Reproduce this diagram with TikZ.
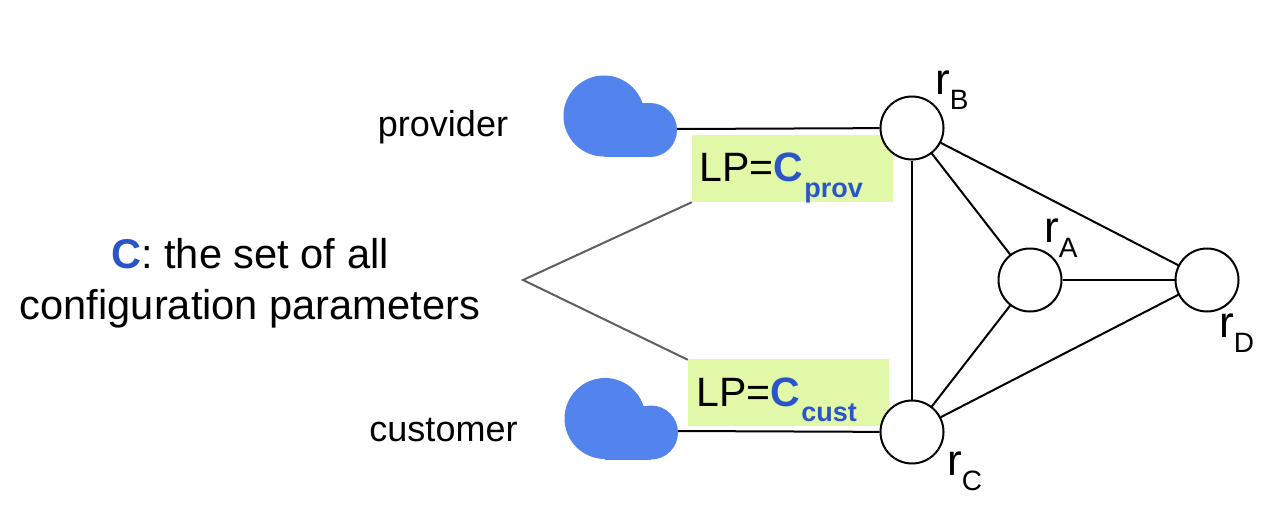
\documentclass[tikz,border=0pt]{standalone}
\usepackage{fontspec}
\setmainfont{Liberation Sans}
\usetikzlibrary{positioning}
\definecolor{cloudblue}{HTML}{5383EC}
\definecolor{paramblue}{HTML}{2A55C8}
\definecolor{lpgreen}{HTML}{E0F8A8}
\definecolor{braceline}{HTML}{5F5F5F}
\newcommand{\sz}[1]{\fontsize{#1}{#1}\selectfont}
\newcommand{\rname}[1]{r\raisebox{-15pt}{\sz{28}#1}}
\newcommand{\lpval}[1]{LP=\textcolor{paramblue}{\bfseries C\kern1.5pt\raisebox{-15.5pt}{\sz{27}#1}}}
\begin{document}
\begin{tikzpicture}[
	x=1pt, y=-1pt,
	router/.style = {draw, circle, fill=white, line width=2pt, minimum size=63pt, inner sep=0pt},
	lpbox/.style = {fill=lpgreen, minimum width=201pt, minimum height=67pt, inner sep=0pt},
	lbl/.style = {anchor=base west, inner sep=0pt, font=\sz{44}},
	lptxt/.style = {anchor=base west, inner sep=0pt, font=\sz{41}},
	peer/.style = {inner sep=0pt, font=\sz{36}},
	link/.style = {line width=2pt},
	brace/.style = {line width=2pt, draw=braceline},
	cloudshape/.pic = {
		\fill[cloudblue] (-46,-14) circle[radius=40.5];
		\fill[cloudblue] (0,0) circle[radius=27];
		\fill[cloudblue] (-46,0) rectangle (0,27);
		\fill[cloudblue] (-9,-27) rectangle (0,0);
	}
	]
	\useasboundingbox (0,0) rectangle (1274,524);
%
	\node[lpbox] (prov) at (792.5,168.5) {};
	\node[lpbox] (cust) at (788.5,392.5) {};
	\node[lptxt] (provtxt) at (699,182) {\lpval{prov}};
	\node[lptxt] (custtxt) at (696,406) {\lpval{cust}};
%
	\node[router] (rB) at (912,128) {};
	\node[router] (rA) at (1030,280) {};
	\node[router] (rC) at (912,432) {};
	\node[router] (rD) at (1207,280) {};
	\node[lbl] (lB) at (935,95) {\rname{B}};
	\node[lbl] (lA) at (1044,242) {\rname{A}};
	\node[lbl] (lC) at (947,475) {\rname{C}};
	\node[lbl] (lD) at (1219,337) {\rname{D}};
%
	\pic at (650,130) {cloudshape};
	\pic at (651,432.5) {cloudshape};
	\coordinate (cloudP) at (677,129);
	\coordinate (cloudC) at (678,431);
	\coordinate (apex) at (523,280);
%
	\node[peer] (provider) at (443,127) {provider};
	\node[peer] (customer) at (443.5,430) {customer};
	\node[inner sep=0pt, align=center, font=\sz{41.6}] (param) at (250,283)
		{\textcolor{paramblue}{\bfseries C}: the set of all\\[9pt]configuration parameters};
%
	\draw[link] (cloudP) -- (rB);
	\draw[link] (cloudC) -- (rC);
	\draw[link] (rB) -- (rC);
	\draw[link] (rB) -- (rA);
	\draw[link] (rB) -- (rD);
	\draw[link] (rC) -- (rA);
	\draw[link] (rC) -- (rD);
	\draw[link] (rA) -- (rD);
	\draw[brace] (prov.south west) -- (apex) -- ([yshift=-1pt] cust.north west);
\end{tikzpicture}
\end{document}
